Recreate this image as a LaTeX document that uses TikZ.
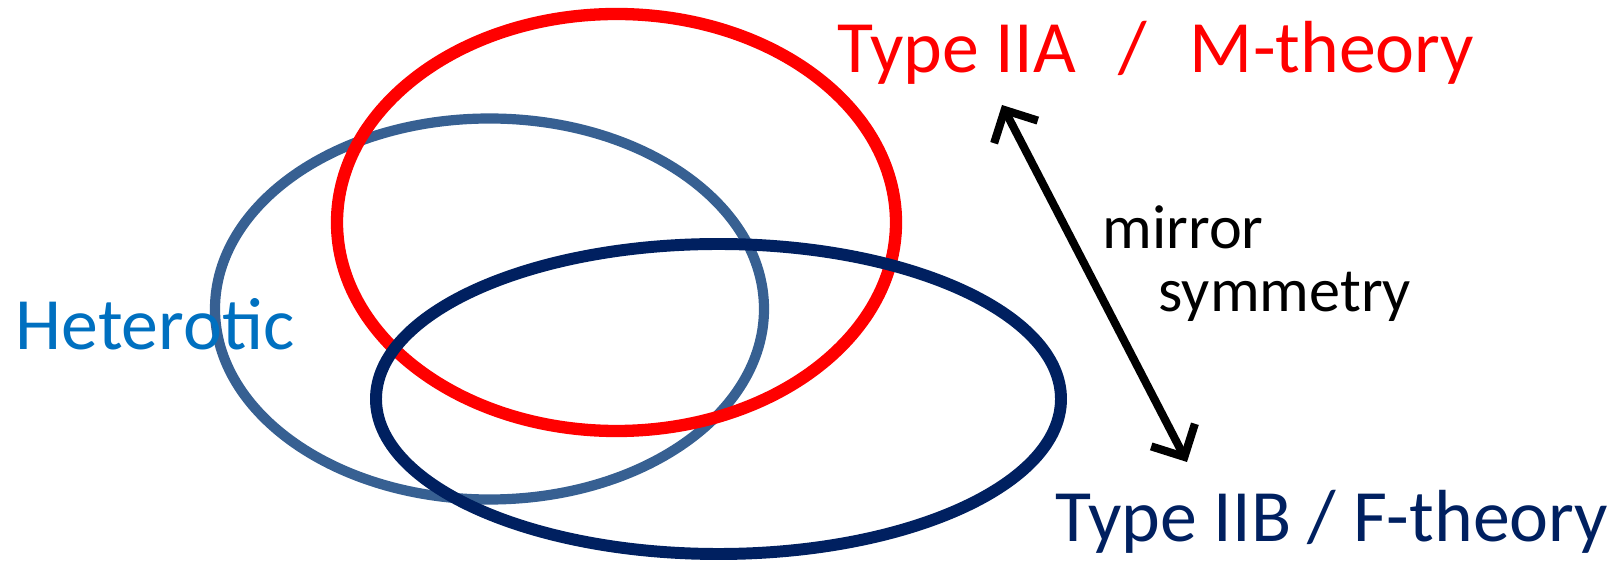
\documentclass[tikz,border=0pt]{standalone}
\usepackage{fontspec}
\setmainfont{Carlito}
\usetikzlibrary{arrows.meta}
\definecolor{iiacol}{RGB}{255,0,0}
\definecolor{hetcol}{RGB}{55,96,146}
\definecolor{hettext}{RGB}{0,112,192}
\definecolor{iibcol}{RGB}{0,32,96}

\begin{document}
\begin{tikzpicture}[x=0.1mm, y=-0.1mm,
	    ring/.style={line width=#1},
	    theory/.style={inner sep=0pt, anchor=base west, font=\fontsize{21pt}{25pt}\selectfont},
	    remark/.style={inner sep=0pt, anchor=base west, font=\fontsize{17.7pt}{21pt}\selectfont},
	    twoway/.style={line width=2.3pt, line cap=round, {Straight Barb[length=7pt,width=14pt]}-{Straight Barb[length=7pt,width=14pt]}}]
	    \useasboundingbox (0,0) rectangle (1623,563);
	
		% the three corners of the moduli space
		\draw[ring=2.9pt, hetcol] (489.5,309) ellipse [x radius=274.5, y radius=190.5];
		\draw[ring=3.5pt, iiacol] (616.5,222.5) ellipse [x radius=279.5, y radius=208.5];
		\draw[ring=3.4pt, iibcol] (718.5,399) ellipse [x radius=342.5, y radius=155];
	
		\node[theory, iiacol] (iia) at (837,73) {Type IIA\hspace{0.58em}/\hspace{0.58em}M-theory};
		\node[theory, hettext] (het) at (15,350) {Heterotic};
		\node[theory, iibcol] (iib) at (1055,542) {Type IIB / F-theory};
	
		\node[remark] (mirror) at (1102,249) {mirror};
		\node[remark] (symm) at (1158,312) {symmetry};
	
		\coordinate (up) at (1002,105);
		\coordinate (down) at (1187,462);
		\draw[twoway] (up) -- (down);
	  \end{tikzpicture}
\end{document}
